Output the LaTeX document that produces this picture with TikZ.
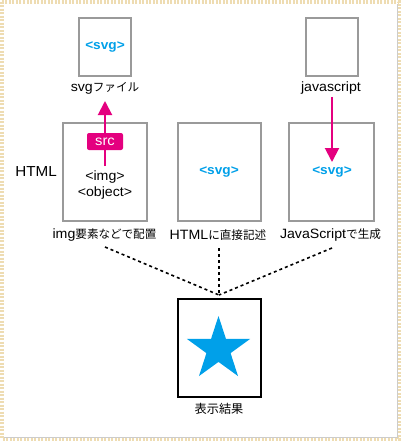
\documentclass[tikz,border=0pt]{standalone}
\usepackage{fontspec}
\setmainfont[FakeStretch=1.05]{Liberation Sans}
\newfontfamily\jp{Noto Sans CJK JP}
\usetikzlibrary{arrows.meta}
\definecolor{boxgray}{HTML}{9A9A9A}
\definecolor{svgblue}{HTML}{00A0E9}
\definecolor{mag}{HTML}{E4007F}
\definecolor{framec}{HTML}{EEDCB2}
\newcommand{\jpt}[1]{{\jp\fontsize{11.6}{13}\selectfont #1}}
\begin{document}
\begin{tikzpicture}[x=1pt,y=-1pt,
  gbox/.style={draw=boxgray, line width=2pt, inner sep=0pt, minimum width=#1},
  svgtag/.style={text=svgblue, font=\bfseries\fontsize{13}{15}\selectfont},
  lbl/.style={font=\fontsize{13.5}{15}\selectfont, inner sep=1pt},
  marrow/.style={draw=mag, line width=2pt, -{Triangle[width=14pt,length=14pt]}},
  dots/.style={draw=black, line width=1.6pt, dash pattern=on 3pt off 3pt}]
\useasboundingbox (0,0) rectangle (401,441);
% frame
\fill[white] (0,0) rectangle (401,441);
\draw[framec, line width=4pt, dash pattern=on 2pt off 1.5pt] (2,2) rectangle (399,439);
\draw[black!20, line width=1pt] (397.5,4) -- (397.5,437.5) -- (4,437.5);
% boxes
\node[gbox=52pt, minimum height=58pt] (boxA) at (105,47) {};
\node[gbox=52pt, minimum height=58pt] (boxB) at (332,47) {};
\node[gbox=84pt, minimum height=98pt] (m1) at (105,172) {};
\node[gbox=83pt, minimum height=98pt] (m2) at (219.5,172) {};
\node[gbox=85pt, minimum height=98pt] (m3) at (331.5,172) {};
\node[draw=black, line width=2pt, inner sep=0pt, minimum width=83pt, minimum height=98pt] (res) at (219.5,348) {};
% tags
\node[svgtag] (svgA) at (105,47) {<svg>};
\node[svgtag] (svgM) at (219,172) {<svg>};
\node[svgtag] (svgR) at (332,172) {<svg>};
% labels
\node[lbl] (lblA) at (105,88) {svg\jpt{ファイル}};
\node[lbl] (lblB) at (331,88) {javascript};
\node[font=\fontsize{14.5}{16}\selectfont] (html) at (36,172) {HTML};
\node[lbl, align=center, font=\fontsize{13.5}{15.5}\selectfont] (imgtxt) at (105,185) {<img>\\<object>};
\node[lbl] (c1) at (104.5,235) {img\jpt{要素などで配置}};
\node[lbl] (c2) at (218,235) {HTML\jpt{に直接記述}};
\node[lbl] (c3) at (330.5,235) {JavaScript\jpt{で生成}};
\node[lbl, font=\jp\fontsize{12.2}{14}\selectfont] (resl) at (219,409) {表示結果};
% arrows
\coordinate (aS) at (105,166);
\coordinate (aE) at (105,101);
\draw[marrow] (aS) -- (aE);
\node[fill=mag, rounded corners=2pt, text=white, minimum width=36pt, minimum height=17pt, inner sep=0pt, font=\fontsize{14}{15}\selectfont] (src) at (105,141.5) {src};
\coordinate (bS) at (332,97);
\coordinate (bE) at (332,162);
\draw[marrow] (bS) -- (bE);
% dotted
\coordinate (d1) at (105,247);
\coordinate (d2) at (219,248);
\coordinate (d3) at (332,248);
\coordinate (dm) at (219,295);
\draw[dots] (d1) -- (dm);
\draw[dots] (d2) -- (dm);
\draw[dots] (d3) -- (dm);
% star
\fill[svgblue] (218.5,349.2) ++(90:-33.2)
  \foreach \i in {0,...,9}{ -- ({218.5+ (mod(\i,2)==0 ? 33.2 : 12.7)*cos(90+36*\i)}, {349.2 - (mod(\i,2)==0 ? 33.2 : 12.7)*sin(90+36*\i)}) } -- cycle;
\end{tikzpicture}
\end{document}
